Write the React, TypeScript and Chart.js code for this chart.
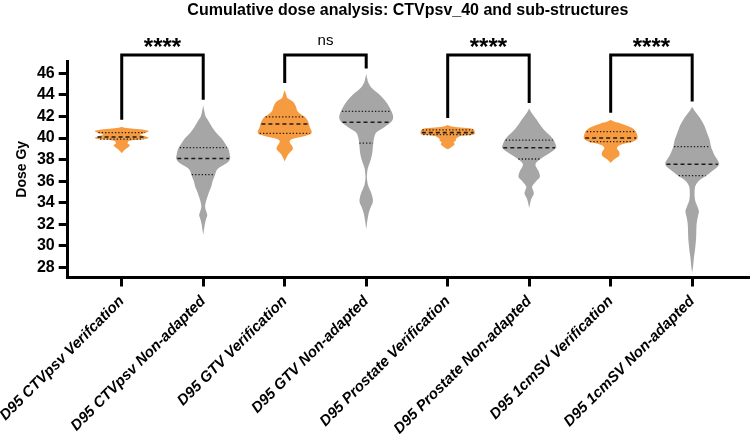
import React, { useEffect, useRef } from 'react';
import { Chart, registerables } from 'chart.js';

Chart.register(...registerables);

const TITLE = 'Cumulative dose analysis: CTVpsv_40 and sub-structures';
const Y_TITLE = 'Dose Gy';
const CATEGORIES = [
  'D95 CTVpsv Verifcation',
  'D95 CTVpsv Non-adapted',
  'D95 GTV Verification',
  'D95 GTV Non-adapted',
  'D95 Prostate Verification',
  'D95 Prostate Non-adapted',
  'D95 1cmSV Verification',
  'D95 1cmSV Non-adapted',
];
const Y_TICKS = [28, 30, 32, 34, 36, 38, 40, 42, 44, 46];

// violin density profiles: dose level (Gy) and relative density (max 1)
const V1_LEVELS = [41.05, 40.95, 40.85, 40.75, 40.65, 40.5, 40.38, 40.28, 40.15, 40.0, 39.88, 39.78, 39.7, 39.5, 39.35, 39.2, 39.0, 38.8, 38.6];
const V1_DENSITY = [0, 0.12, 0.45, 0.85, 1, 0.9, 0.72, 0.7, 0.9, 1, 0.8, 0.35, 0.25, 0.22, 0.3, 0.26, 0.16, 0.07, 0];

const V2_LEVELS = [43.05, 42.5, 42.0, 41.6, 41.0, 40.5, 40.0, 39.5, 39.0, 38.5, 38.1, 37.7, 37.3, 37.0, 36.6, 36.0, 35.5, 35.0, 34.5, 34.0, 33.6, 33.2, 32.85, 32.5, 32.0, 31.5, 31.0];
const V2_DENSITY = [0, 0.04, 0.09, 0.19, 0.33, 0.48, 0.67, 0.81, 0.93, 0.98, 1, 0.89, 0.63, 0.5, 0.44, 0.35, 0.3, 0.22, 0.15, 0.09, 0.07, 0.11, 0.15, 0.11, 0.06, 0.03, 0];

const V3_LEVELS = [44.45, 44.0, 43.7, 43.4, 43.1, 42.8, 42.5, 42.2, 41.95, 41.7, 41.4, 41.0, 40.6, 40.35, 40.15, 39.95, 39.75, 39.5, 39.2, 38.9, 38.6, 38.3, 38.0, 37.8];
const V3_DENSITY = [0, 0.06, 0.11, 0.3, 0.38, 0.43, 0.47, 0.6, 0.75, 0.83, 0.89, 0.93, 1, 0.95, 0.68, 0.34, 0.19, 0.21, 0.29, 0.29, 0.17, 0.09, 0.03, 0];

const V4_LEVELS = [45.95, 45.5, 45.2, 44.7, 44.1, 43.5, 42.9, 42.45, 41.95, 41.5, 41.0, 40.55, 40.1, 39.5, 38.7, 38.2, 37.7, 37.2, 36.6, 36.2, 35.6, 35.0, 34.4, 34.0, 33.6, 33.0, 32.3, 31.5];
const V4_DENSITY = [0, 0.04, 0.07, 0.19, 0.46, 0.69, 0.85, 0.94, 1, 0.93, 0.67, 0.39, 0.3, 0.26, 0.23, 0.19, 0.13, 0.06, 0.03, 0.03, 0.07, 0.17, 0.24, 0.24, 0.17, 0.09, 0.04, 0];

const V5_LEVELS = [41.2, 41.1, 41.0, 40.9, 40.8, 40.6, 40.4, 40.3, 40.2, 40.05, 39.9, 39.75, 39.6, 39.45, 39.3, 39.15, 39.0, 38.95];
const V5_DENSITY = [0, 0.11, 0.37, 0.81, 0.96, 1, 1, 0.93, 0.52, 0.37, 0.3, 0.3, 0.22, 0.26, 0.22, 0.13, 0.04, 0];

const V6_LEVELS = [42.75, 42.3, 41.7, 41.2, 40.7, 40.2, 39.8, 39.4, 39.1, 38.8, 38.5, 38.1, 37.7, 37.4, 37.0, 36.6, 36.3, 35.95, 35.5, 35.1, 34.8, 34.4, 34.0, 33.5];
const V6_DENSITY = [0, 0.1, 0.28, 0.41, 0.57, 0.78, 0.91, 0.98, 1, 0.87, 0.69, 0.44, 0.26, 0.24, 0.33, 0.39, 0.38, 0.24, 0.11, 0.15, 0.17, 0.09, 0.04, 0];

const V7_LEVELS = [41.7, 41.5, 41.35, 41.05, 40.75, 40.45, 40.05, 39.8, 39.6, 39.4, 39.2, 39.0, 38.75, 38.5, 38.25, 38.05, 37.85, 37.7];
const V7_DENSITY = [0, 0.15, 0.37, 0.7, 0.89, 0.96, 1, 0.93, 0.74, 0.41, 0.26, 0.24, 0.31, 0.33, 0.28, 0.15, 0.06, 0];

const V8_LEVELS = [42.9, 42.6, 42.3, 41.7, 41.2, 40.7, 40.2, 39.8, 39.2, 38.8, 38.4, 38.0, 37.6, 37.3, 37.0, 36.5, 36.2, 35.9, 35.5, 35.0, 34.6, 34.1, 33.6, 33.2, 32.8, 32.3, 31.8, 31.0, 30.5, 30.0, 29.5, 29.0, 28.5, 28.0, 27.5];
const V8_DENSITY = [0, 0.07, 0.16, 0.33, 0.44, 0.52, 0.59, 0.65, 0.7, 0.76, 0.83, 0.93, 1, 0.93, 0.78, 0.52, 0.33, 0.2, 0.11, 0.09, 0.09, 0.12, 0.2, 0.25, 0.22, 0.18, 0.16, 0.15, 0.14, 0.12, 0.1, 0.07, 0.05, 0.03, 0];

const MEDIANS = [40.1, 38.1, 41.3, 41.47, 40.5, 39.1, 40.0, 37.56];
const UPPER_QUARTILES = [40.5, 39.1, 41.97, 42.47, 40.75, 39.8, 40.6, 39.2];
const LOWER_QUARTILES = [39.9, 36.6, 40.43, 39.53, 40.32, 38.05, 39.66, 36.5];

const SIG_PAIRS = [[0, 1], [2, 3], [4, 5], [6, 7]];
const SIG_LABELS = ['****', 'ns', '****', '****'];
const BRACKET_LEVEL = 47.7;

const LEVELS = [V1_LEVELS, V2_LEVELS, V3_LEVELS, V4_LEVELS, V5_LEVELS, V6_LEVELS, V7_LEVELS, V8_LEVELS];
const DENSITIES = [V1_DENSITY, V2_DENSITY, V3_DENSITY, V4_DENSITY, V5_DENSITY, V6_DENSITY, V7_DENSITY, V8_DENSITY];

const ORANGE = '#F79B40';
const GRAY = '#A6A6A6';
const COLORS = [ORANGE, GRAY, ORANGE, GRAY, ORANGE, GRAY, ORANGE, GRAY];
const HALF_WIDTH = 0.331;
const FONT = '"Liberation Sans", Arial, Helvetica, sans-serif';

function curveThrough(ctx: CanvasRenderingContext2D, pts: number[][]) {
  for (let k = 0; k < pts.length - 1; k++) {
    const p0 = pts[k - 1] || pts[k];
    const p1 = pts[k];
    const p2 = pts[k + 1];
    const p3 = pts[k + 2] || pts[k + 1];
    const t = 1 / 6;
    ctx.bezierCurveTo(
      p1[0] + (p2[0] - p0[0]) * t, p1[1] + (p2[1] - p0[1]) * t,
      p2[0] - (p3[0] - p1[0]) * t, p2[1] - (p3[1] - p1[1]) * t,
      p2[0], p2[1]
    );
  }
}

function densityAt(levels: number[], dens: number[], v: number) {
  for (let k = 0; k < levels.length - 1; k++) {
    const a = levels[k], b = levels[k + 1];
    if (v <= a && v >= b) {
      const f = (a - v) / (a - b);
      return dens[k] + (dens[k + 1] - dens[k]) * f;
    }
  }
  return 0;
}

const violinPlugin = {
  id: 'violins',
  beforeDatasetsDraw(chart: any) {
    const { ctx } = chart;
    const x = chart.scales.x;
    const y = chart.scales.y;
    ctx.save();
    LEVELS.forEach((levels, i) => {
      const dens = DENSITIES[i];
      const cx = x.getPixelForValue(i);
      const right = levels.map((lv, k) => [x.getPixelForValue(i + dens[k] * HALF_WIDTH), y.getPixelForValue(lv)]);
      const left = right.slice().reverse().map((p) => [2 * cx - p[0], p[1]]);
      ctx.beginPath();
      ctx.moveTo(right[0][0], right[0][1]);
      curveThrough(ctx, right);
      ctx.lineTo(left[0][0], left[0][1]);
      curveThrough(ctx, left);
      ctx.closePath();
      ctx.fillStyle = COLORS[i];
      ctx.fill();

      const drawLine = (v: number, dash: number[], lw: number) => {
        const d = densityAt(levels, dens, v) * HALF_WIDTH * 0.96;
        const yy = y.getPixelForValue(v);
        ctx.beginPath();
        ctx.setLineDash(dash);
        ctx.lineWidth = lw;
        ctx.strokeStyle = '#1c1c1c';
        ctx.moveTo(x.getPixelForValue(i - d), yy);
        ctx.lineTo(x.getPixelForValue(i + d), yy);
        ctx.stroke();
      };
      drawLine(MEDIANS[i], [4, 3], 1.6);
      drawLine(UPPER_QUARTILES[i], [1.3, 2], 1.3);
      drawLine(LOWER_QUARTILES[i], [1.3, 2], 1.3);
    });
    ctx.restore();
  },
  afterDraw(chart: any) {
    const { ctx, chartArea } = chart;
    const x = chart.scales.x;
    const y = chart.scales.y;
    ctx.save();
    ctx.fillStyle = '#000';
    ctx.font = `bold 16px ${FONT}`;
    ctx.textAlign = 'center';
    ctx.textBaseline = 'alphabetic';
    ctx.fillText(TITLE, (chartArea.left + chartArea.right) / 2, 15);
    const yTop = y.getPixelForValue(BRACKET_LEVEL);
    SIG_PAIRS.forEach((pair, j) => {
      const [a, b] = pair;
      const xa = x.getPixelForValue(a);
      const xb = x.getPixelForValue(b);
      const ya = y.getPixelForValue(LEVELS[a][0] + 0.65);
      const yb = y.getPixelForValue(LEVELS[b][0] + 0.5);
      ctx.beginPath();
      ctx.setLineDash([]);
      ctx.lineWidth = 3;
      ctx.strokeStyle = '#000';
      ctx.lineJoin = 'miter';
      ctx.lineCap = 'butt';
      ctx.moveTo(xa, ya);
      ctx.lineTo(xa, yTop);
      ctx.lineTo(xb, yTop);
      ctx.lineTo(xb, yb);
      ctx.stroke();
      const label = SIG_LABELS[j];
      if (label === 'ns') {
        ctx.font = `15px ${FONT}`;
        ctx.fillText(label, (xa + xb) / 2, yTop - 10);
      } else {
        ctx.font = `bold 24px ${FONT}`;
        ctx.fillText(label, (xa + xb) / 2, yTop - 0.5);
      }
    });
    ctx.restore();
  },
};

export default function App() {
  const canvasRef = useRef<HTMLCanvasElement | null>(null);

  useEffect(() => {
    const canvas = canvasRef.current;
    if (!canvas) return;
    const chart = new Chart(canvas, {
      type: 'scatter',
      data: {
        datasets: [
          {
            label: 'Median',
            data: MEDIANS.map((m, i) => ({ x: i, y: m })),
            pointRadius: 0,
            showLine: false,
          },
        ],
      },
      options: {
        animation: false,
        responsive: false,
        events: [],
        layout: { padding: { top: 61, right: 3, left: 0, bottom: 0 } },
        plugins: {
          legend: { display: false },
          tooltip: { enabled: false },
          title: { display: false },
        },
        scales: {
          x: {
            type: 'linear',
            min: -0.663,
            max: 7.685,
            afterBuildTicks: (axis: any) => {
              axis.ticks = CATEGORIES.map((_, i) => ({ value: i }));
            },
            afterFit: (scale: any) => {
              scale.height = 156.5;
              scale.paddingLeft = 0;
              scale.paddingRight = 0;
            },
            ticks: {
              autoSkip: false,
              minRotation: 45,
              maxRotation: 45,
              padding: 6,
              color: '#000',
              font: { family: FONT, size: 15, weight: 'bold', style: 'italic' },
              callback: (value: any) => CATEGORIES[Math.round(Number(value))] ?? '',
            },
            grid: {
              display: true,
              drawOnChartArea: false,
              drawTicks: true,
              tickLength: 9,
              lineWidth: 3,
              color: '#000',
            },
            border: { display: true, width: 3, color: '#000' },
          },
          y: {
            type: 'linear',
            min: 27.05,
            max: 47.15,
            afterBuildTicks: (axis: any) => {
              axis.ticks = Y_TICKS.map((v) => ({ value: v }));
            },
            afterFit: (scale: any) => {
              scale.width = 67.7;
              scale.paddingTop = 0;
              scale.paddingBottom = 0;
            },
            ticks: {
              padding: 4,
              color: '#000',
              font: { family: FONT, size: 16, weight: 'bold' },
            },
            title: {
              display: true,
              text: Y_TITLE,
              color: '#000',
              font: { family: FONT, size: 14, weight: 'bold' },
              padding: { top: 14, bottom: 0 },
            },
            grid: {
              display: true,
              drawOnChartArea: false,
              drawTicks: true,
              tickLength: 9,
              lineWidth: 3,
              color: '#000',
            },
            border: { display: true, width: 3, color: '#000' },
          },
        },
      },
      plugins: [violinPlugin],
    } as any);
    return () => chart.destroy();
  }, []);

  return (
    <div style={{ position: 'absolute', left: 0, top: 0, width: 751, height: 434, background: '#fff' }}>
      <canvas ref={canvasRef} width={751} height={434} style={{ display: 'block' }} />
    </div>
  );
}
